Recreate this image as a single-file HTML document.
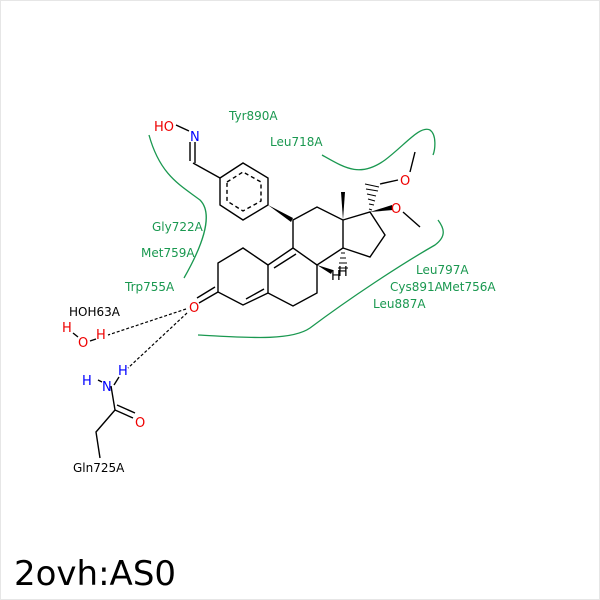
<!DOCTYPE html>
<html><head><style>body{margin:0;background:#fff}svg{display:block}</style></head><body>
<svg width="600" height="600" viewBox="0 0 600 600" xmlns="http://www.w3.org/2000/svg" font-family="DejaVu Sans, Liberation Sans, sans-serif">
<rect x="0.5" y="0.5" width="599" height="599" fill="#fff" stroke="#e6e6e6"/>
<g fill="none" stroke="#1a9850" stroke-width="1.3">
<path d="M149,135 C160,175 180,185 200,200 C215,215 200,250 184,278"/>
<path d="M322,155 C345,168 360,178 385,160 C405,145 420,125 430,130 C437,135 435,150 433,155"/>
<path d="M198,335 C240,337 290,342 310,328 C350,298 400,265 435,245 C447,236 444,228 438,220"/>
</g>
<g font-size="12" fill="#1a9850">
<text x="229" y="120">Tyr890A</text>
<text x="270" y="146">Leu718A</text>
<text x="152" y="231">Gly722A</text>
<text x="141" y="257">Met759A</text>
<text x="125" y="291">Trp755A</text>
<text x="416" y="274">Leu797A</text>
<text x="390" y="291">Cys891A</text>
<text x="442" y="291">Met756A</text>
<text x="373" y="308">Leu887A</text>
</g>
<g stroke="#000" stroke-width="1.4" fill="none">
<polygon points="220,178 243,163 268,178 268,205 243,220 220,205"/>
<polygon points="227,182 243,172 261,182 261,201 243,211 227,201" stroke-dasharray="4,3"/>
<path d="M220,178 L193,163"/>
<path d="M195,163 L195,142 M190,161 L190,142"/>
<path d="M176,125 L189,131"/>
<path d="M293,220 L317,207 L343,220 L343,248 L317,265 L293,248 Z"/>
<path d="M293,248 L268,265 L268,293 L293,306 L317,293 L317,265"/>
<path d="M296,254 L274,268"/>
<path d="M268,265 L243,248 L218,263 L218,292 L243,305 L268,293"/>
<path d="M246,299 L264,289"/>
<path d="M218,292 L199,303 M215,287 L197,298"/>
<path d="M343,220 L370,212 L385,235 L370,257 L343,248"/>
<path d="M380,184 L398,180 M410,172 L415,152"/>
<path d="M403,212 L420,227"/>
<path d="M73,333 L78,337 M90,341 L96,339"/>
</g>
<g fill="#000">
<polygon points="268,205 293,218 291,222"/>
<polygon points="343,220 341,192 345,192"/>
<polygon points="370,212 392,205 393,210"/>
<polygon points="317,265 333,270 331,274"/>
</g>
<g stroke="#000" stroke-width="1">
<path d="M369,209 L372,210 M369,204 L374,205 M368,199 L375,201 M367,194 L376,196 M366,189 L378,191 M365,184 L379,187"/>
<path d="M341,253 L345,253 M340,258 L346,258 M339,263 L347,263 M338,268 L348,268"/>
</g>
<g stroke="#000" stroke-width="1.2" stroke-dasharray="3,2" fill="none">
<path d="M186,309 L108,335"/>
<path d="M187,313 L128,368"/>
</g>
<g stroke="#000" stroke-width="1.4" fill="none">
<path d="M111,386 L115,410 L96,432 L100,458"/>
<path d="M115,410 L133,418 M117,405 L135,413"/>
<path d="M98,380 L102,382 M114,385 L119,377"/>
</g>
<g font-size="13">
<text x="189" y="312" fill="#e00">O</text>
<text x="190" y="141" fill="#00f">N</text>
<text x="154" y="131" fill="#e00">HO</text>
<text x="400" y="185" fill="#e00">O</text>
<text x="391" y="213" fill="#e00">O</text>
<text x="331" y="280" fill="#000">H</text>
<text x="338" y="276" fill="#000">H</text>
<text x="78" y="347" fill="#e00">O</text>
<text x="62" y="332" fill="#e00">H</text>
<text x="96" y="339" fill="#e00">H</text>
<text x="102" y="391" fill="#00f">N</text>
<text x="82" y="385" fill="#00f">H</text>
<text x="118" y="375" fill="#00f">H</text>
<text x="135" y="427" fill="#e00">O</text>
</g>
<g font-size="12" fill="#000">
<text x="69" y="316">HOH63A</text>
<text x="73" y="472">Gln725A</text>
</g>
<text x="14" y="585" font-size="34" fill="#000">2ovh:AS0</text>
</svg>
</body></html>
